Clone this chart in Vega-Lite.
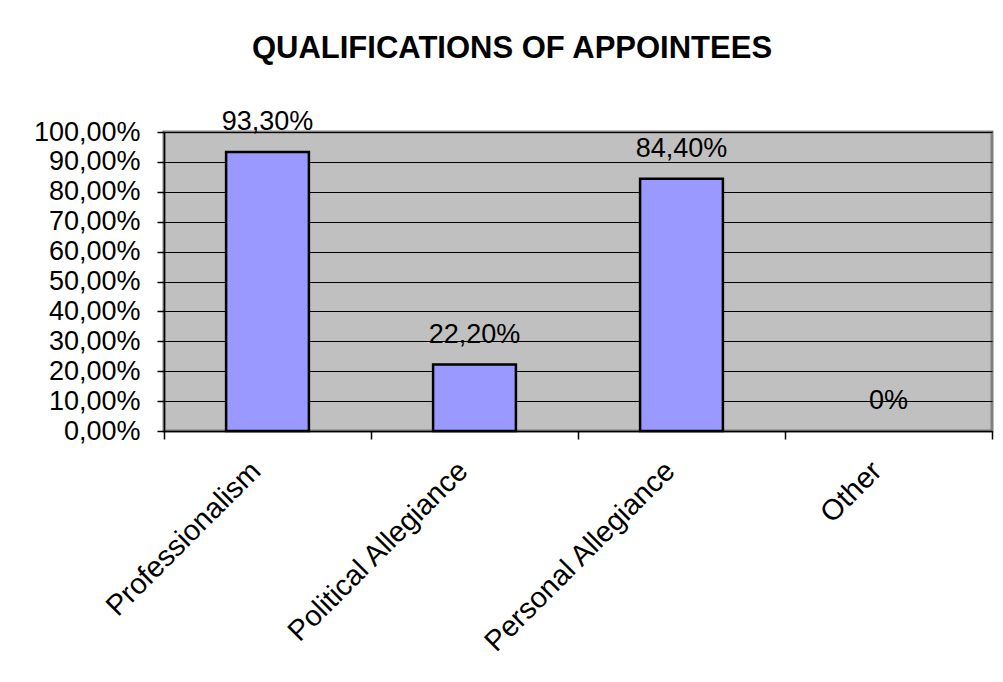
{
  "$schema": "https://vega.github.io/schema/vega-lite/v6.json",
  "width": 828,
  "height": 299,
  "autosize": "none",
  "padding": {"left": 164, "top": 132, "right": 11, "bottom": 251},
  "background": "white",
  "title": {
    "text": "QUALIFICATIONS OF APPOINTEES",
    "fontSize": 31,
    "fontWeight": "bold",
    "font": "Liberation Sans",
    "color": "black",
    "anchor": "middle",
    "dx": -66,
    "offset": 43
  },
  "config": {
    "locale": {"number": {"decimal": ",", "thousands": ".", "grouping": [3], "currency": ["", " €"]}},
    "view": {"fill": "#C0C0C0", "stroke": "#808080", "strokeWidth": 3},
    "font": "Liberation Sans",
    "axis": {"labelFont": "Liberation Sans", "labelColor": "black", "domainColor": "black", "tickColor": "black", "domainWidth": 1.5, "tickWidth": 1.5}
  },
  "data": {
    "values": [
      {"category": "Professionalism", "value": 0.933},
      {"category": "Political Allegiance", "value": 0.222},
      {"category": "Personal Allegiance", "value": 0.844},
      {"category": "Other", "value": 0}
    ]
  },
  "encoding": {
    "x": {
      "field": "category",
      "type": "nominal",
      "sort": null,
      "scale": {"paddingInner": 0, "paddingOuter": 0},
      "axis": {
        "title": null,
        "labelAngle": -45,
        "labelAlign": "right",
        "labelBaseline": "middle",
        "labelFontSize": 29,
        "labelLimit": 0,
        "labelOffset": -12,
        "tickBand": "extent",
        "tickSize": 8,
        "labelPadding": 27,
        "grid": false
      }
    },
    "y": {
      "field": "value",
      "type": "quantitative",
      "scale": {"domain": [0, 1], "nice": false},
      "axis": {
        "title": null,
        "values": [0, 0.1, 0.2, 0.3, 0.4, 0.5, 0.6, 0.7, 0.8, 0.9, 1],
        "format": ".2%",
        "labelFontSize": 27,
        "tickSize": 7,
        "labelPadding": 17,
        "grid": true,
        "gridColor": "black",
        "gridWidth": 1,
        "gridOpacity": 1
      }
    }
  },
  "layer": [
    {
      "mark": {"type": "bar", "width": {"band": 0.4}, "fill": "#9999FF", "stroke": "black", "strokeWidth": 2.5},
      "encoding": {
        "strokeOpacity": {"condition": {"test": "datum.value === 0", "value": 0}, "value": 1}
      }
    },
    {
      "mark": {"type": "text", "baseline": "bottom", "dy": -16, "fontSize": 27, "color": "black", "font": "Liberation Sans"},
      "encoding": {
        "text": {"condition": {"test": "datum.value === 0", "value": "0%"}, "field": "value", "type": "quantitative", "format": ".2%"}
      }
    }
  ]
}
